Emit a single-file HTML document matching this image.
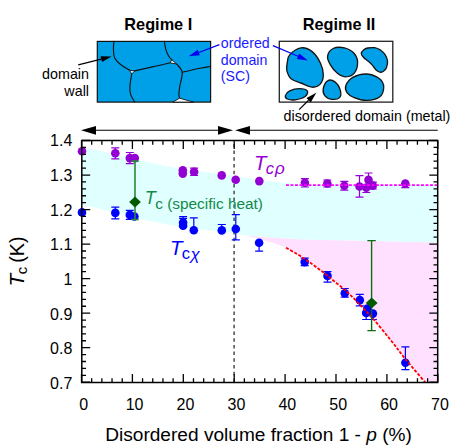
<!DOCTYPE html>
<html><head><meta charset="utf-8"><title>Tc vs disordered volume fraction</title>
<style>
html,body{margin:0;padding:0;background:#fff;}
body{width:463px;height:447px;overflow:hidden;font-family:"Liberation Sans",sans-serif;}
svg{display:block;font-family:"Liberation Sans",sans-serif;}
</style></head><body>
<svg width="463" height="447" viewBox="0 0 463 447">
<rect x="0" y="0" width="463" height="447" fill="#ffffff"/>

<polygon fill="#e0ffff" points="82.0,147.0 115.0,154.2 135.6,159.6 160.0,165.0 179.7,168.6 200.0,171.5 234.0,176.0 260.0,180.0 285.0,183.0 320.0,184.6 437.7,185.1 437.7,242.6 305.0,239.7 268.2,237.5 242.3,234.9 225.0,232.3 181.8,227.2 140.4,219.0 127.8,215.5 111.0,211.6 82.0,204.4"/>
<polygon fill="#ffe0ff" points="240.5,234.5 242.3,234.9 268.2,237.5 305.0,239.7 437.7,242.6 437.7,382.4 425.2,382.4 405.4,359.0 390.6,340.0 373.3,319.0 360.0,304.8 349.1,293.9 340.5,286.3 331.8,279.4 323.2,272.3 314.6,265.9 305.9,259.9 297.3,254.2 286.0,247.8 277.0,244.0 268.2,241.5 254.0,237.6"/>
<line x1="234.1" y1="141" x2="234.1" y2="382" stroke="#4a4a4a" stroke-width="1.5" stroke-dasharray="3.5,3.2" stroke-dashoffset="3.8"/>
<path d="M115.3,147.8 V158.8 M111.3,147.8 H119.3 M111.3,158.8 H119.3" stroke="#9400d3" stroke-width="1.2" fill="none"/>
<path d="M129.8,152.5 V163.7 M125.8,152.5 H133.8 M125.8,163.7 H133.8" stroke="#9400d3" stroke-width="1.2" fill="none"/>
<path d="M194.1,168.1 V175.3 M190.1,168.1 H198.1 M190.1,175.3 H198.1" stroke="#9400d3" stroke-width="1.2" fill="none"/>
<path d="M304.9,178.6 V187.0 M300.9,178.6 H308.9 M300.9,187.0 H308.9" stroke="#9400d3" stroke-width="1.2" fill="none"/>
<path d="M327.3,180.0 V187.0 M323.3,180.0 H331.3 M323.3,187.0 H331.3" stroke="#9400d3" stroke-width="1.2" fill="none"/>
<path d="M344.3,181.4 V190.2 M340.3,181.4 H348.3 M340.3,190.2 H348.3" stroke="#9400d3" stroke-width="1.2" fill="none"/>
<path d="M359.5,175.6 V197.1 M355.5,175.6 H363.5 M355.5,197.1 H363.5" stroke="#9400d3" stroke-width="1.2" fill="none"/>
<path d="M366.3,187.6 V192.5 M362.3,192.5 H370.3" stroke="#9400d3" stroke-width="1.2" fill="none"/>
<path d="M368.5,173.0 V179.9 M364.5,173.0 H372.5" stroke="#9400d3" stroke-width="1.2" fill="none"/>
<path d="M372.8,182.1 V189.0 M368.8,182.1 H376.8 M368.8,189.0 H376.8" stroke="#9400d3" stroke-width="1.2" fill="none"/>
<path d="M405.3,183.5 V187.6 M401.3,187.6 H409.3" stroke="#9400d3" stroke-width="1.2" fill="none"/>
<circle cx="82.0" cy="151.2" r="4.3" fill="#9400d3"/>
<circle cx="115.3" cy="153.3" r="4.3" fill="#9400d3"/>
<circle cx="129.8" cy="158.1" r="4.3" fill="#9400d3"/>
<circle cx="134.8" cy="158.1" r="4.3" fill="#9400d3"/>
<circle cx="182.8" cy="170.3" r="4.3" fill="#9400d3"/>
<circle cx="182.8" cy="173.6" r="4.3" fill="#9400d3"/>
<circle cx="194.1" cy="171.7" r="4.3" fill="#9400d3"/>
<circle cx="221.7" cy="175.4" r="4.3" fill="#9400d3"/>
<circle cx="235.7" cy="179.7" r="4.3" fill="#9400d3"/>
<circle cx="259.3" cy="181.1" r="4.3" fill="#9400d3"/>
<circle cx="304.9" cy="182.8" r="4.3" fill="#9400d3"/>
<circle cx="327.3" cy="183.5" r="4.3" fill="#9400d3"/>
<circle cx="344.3" cy="185.8" r="4.3" fill="#9400d3"/>
<circle cx="359.5" cy="186.5" r="4.3" fill="#9400d3"/>
<circle cx="366.3" cy="187.6" r="4.3" fill="#9400d3"/>
<circle cx="368.5" cy="179.9" r="4.3" fill="#9400d3"/>
<circle cx="372.8" cy="185.6" r="4.3" fill="#9400d3"/>
<circle cx="405.3" cy="183.5" r="4.3" fill="#9400d3"/>
<path d="M115.3,207.2 V218.8 M111.3,207.2 H119.3 M111.3,218.8 H119.3" stroke="#0000ff" stroke-width="1.2" fill="none"/>
<path d="M129.8,210.4 V219.4 M125.8,210.4 H133.8 M125.8,219.4 H133.8" stroke="#0000ff" stroke-width="1.2" fill="none"/>
<path d="M183.1,216.6 V222.6 M179.1,216.6 H187.1" stroke="#0000ff" stroke-width="1.2" fill="none"/>
<path d="M183.1,218.3 V225.7 M179.1,218.3 H187.1" stroke="#0000ff" stroke-width="1.2" fill="none"/>
<path d="M193.8,217.8 V230.2 M189.8,217.8 H197.8" stroke="#0000ff" stroke-width="1.2" fill="none"/>
<path d="M221.8,224.5 V230.4 M217.8,224.5 H225.8" stroke="#0000ff" stroke-width="1.2" fill="none"/>
<path d="M235.8,214.7 V239.9 M231.8,214.7 H239.8 M231.8,239.9 H239.8" stroke="#0000ff" stroke-width="1.2" fill="none"/>
<path d="M259.1,242.8 V251.1 M255.1,251.1 H263.1" stroke="#0000ff" stroke-width="1.2" fill="none"/>
<path d="M304.7,258.1 V265.6 M300.7,258.1 H308.7 M300.7,265.6 H308.7" stroke="#0000ff" stroke-width="1.2" fill="none"/>
<path d="M327.5,271.7 V282.1 M323.5,271.7 H331.5 M323.5,282.1 H331.5" stroke="#0000ff" stroke-width="1.2" fill="none"/>
<path d="M344.8,288.5 V297.2 M340.8,288.5 H348.8 M340.8,297.2 H348.8" stroke="#0000ff" stroke-width="1.2" fill="none"/>
<path d="M359.8,294.3 V305.9 M355.8,294.3 H363.8 M355.8,305.9 H363.8" stroke="#0000ff" stroke-width="1.2" fill="none"/>
<path d="M366.2,312.9 V319.5 M362.2,319.5 H370.2" stroke="#0000ff" stroke-width="1.2" fill="none"/>
<path d="M372.9,313.6 V319.5 M368.9,319.5 H376.9" stroke="#0000ff" stroke-width="1.2" fill="none"/>
<path d="M405.4,346.8 V369.6 M401.4,346.8 H409.4 M401.4,369.6 H409.4" stroke="#0000ff" stroke-width="1.2" fill="none"/>
<circle cx="82.0" cy="212.4" r="4.3" fill="#0000ff"/>
<circle cx="115.3" cy="212.9" r="4.3" fill="#0000ff"/>
<circle cx="129.8" cy="214.9" r="4.3" fill="#0000ff"/>
<circle cx="134.4" cy="216.5" r="4.3" fill="#0000ff"/>
<circle cx="183.1" cy="222.6" r="4.3" fill="#0000ff"/>
<circle cx="183.1" cy="225.7" r="4.3" fill="#0000ff"/>
<circle cx="193.8" cy="230.2" r="4.3" fill="#0000ff"/>
<circle cx="221.8" cy="230.4" r="4.3" fill="#0000ff"/>
<circle cx="235.8" cy="229.0" r="4.3" fill="#0000ff"/>
<circle cx="259.1" cy="242.8" r="4.3" fill="#0000ff"/>
<circle cx="304.7" cy="262.1" r="4.3" fill="#0000ff"/>
<circle cx="327.5" cy="275.9" r="4.3" fill="#0000ff"/>
<circle cx="344.8" cy="293.2" r="4.3" fill="#0000ff"/>
<circle cx="359.8" cy="300.1" r="4.3" fill="#0000ff"/>
<circle cx="366.2" cy="312.9" r="4.3" fill="#0000ff"/>
<circle cx="367.4" cy="308.5" r="4.3" fill="#0000ff"/>
<circle cx="372.9" cy="313.6" r="4.3" fill="#0000ff"/>
<circle cx="405.4" cy="362.7" r="4.3" fill="#0000ff"/>
<line x1="286" y1="185.1" x2="437.7" y2="185.1" stroke="#ff00ff" stroke-width="1.6" stroke-dasharray="2.9,1.6"/>
<path d="M286.0,247.8 C287.9,248.9 294.0,252.2 297.3,254.2 C300.6,256.2 303.0,257.9 305.9,259.9 C308.8,261.8 311.7,263.8 314.6,265.9 C317.5,268.0 320.3,270.1 323.2,272.3 C326.1,274.6 328.9,277.1 331.8,279.4 C334.7,281.7 337.6,283.9 340.5,286.3 C343.4,288.7 345.9,290.8 349.1,293.9 C352.4,297.0 356.0,300.6 360.0,304.8 C364.0,309.0 368.2,313.1 373.3,319.0 C378.4,324.9 385.2,333.3 390.6,340.0 C396.0,346.7 399.6,351.9 405.4,359.0 C411.2,366.1 421.9,378.5 425.2,382.4" fill="none" stroke="#ff0000" stroke-width="1.8" stroke-dasharray="3.1,1.6"/>
<path d="M135.0,161.0 V219.5 M131.2,161.0 H138.8 M131.2,219.5 H138.8" stroke="#2a8a3a" stroke-width="1.6" fill="none"/>
<path d="M371.6,240.6 V330.6 M367.4,240.6 H375.8 M367.4,330.6 H375.8" stroke="#106a10" stroke-width="1.4" fill="none"/>
<polygon points="135.0,196.6 140.9,202.0 135.0,207.4 129.1,202.0" fill="#005a00"/>
<polygon points="371.7,297.5 377.6,302.9 371.7,308.3 365.8,302.9" fill="#005a00"/>
<g stroke="#000" stroke-width="1.5" fill="none">
<rect x="81.8" y="140.5" width="355.9" height="242.0"/>
<path d="M81.50,140.5 v8.4 M81.50,382.5 v-8.4 M91.68,140.5 v4.2 M91.68,382.5 v-4.2 M101.86,140.5 v4.2 M101.86,382.5 v-4.2 M112.04,140.5 v4.2 M112.04,382.5 v-4.2 M122.22,140.5 v4.2 M122.22,382.5 v-4.2 M132.40,140.5 v8.4 M132.40,382.5 v-8.4 M142.58,140.5 v4.2 M142.58,382.5 v-4.2 M152.76,140.5 v4.2 M152.76,382.5 v-4.2 M162.94,140.5 v4.2 M162.94,382.5 v-4.2 M173.12,140.5 v4.2 M173.12,382.5 v-4.2 M183.30,140.5 v8.4 M183.30,382.5 v-8.4 M193.48,140.5 v4.2 M193.48,382.5 v-4.2 M203.66,140.5 v4.2 M203.66,382.5 v-4.2 M213.84,140.5 v4.2 M213.84,382.5 v-4.2 M224.02,140.5 v4.2 M224.02,382.5 v-4.2 M234.20,140.5 v8.4 M234.20,382.5 v-8.4 M244.38,140.5 v4.2 M244.38,382.5 v-4.2 M254.56,140.5 v4.2 M254.56,382.5 v-4.2 M264.74,140.5 v4.2 M264.74,382.5 v-4.2 M274.92,140.5 v4.2 M274.92,382.5 v-4.2 M285.10,140.5 v8.4 M285.10,382.5 v-8.4 M295.28,140.5 v4.2 M295.28,382.5 v-4.2 M305.46,140.5 v4.2 M305.46,382.5 v-4.2 M315.64,140.5 v4.2 M315.64,382.5 v-4.2 M325.82,140.5 v4.2 M325.82,382.5 v-4.2 M336.00,140.5 v8.4 M336.00,382.5 v-8.4 M346.18,140.5 v4.2 M346.18,382.5 v-4.2 M356.36,140.5 v4.2 M356.36,382.5 v-4.2 M366.54,140.5 v4.2 M366.54,382.5 v-4.2 M376.72,140.5 v4.2 M376.72,382.5 v-4.2 M386.90,140.5 v8.4 M386.90,382.5 v-8.4 M397.08,140.5 v4.2 M397.08,382.5 v-4.2 M407.26,140.5 v4.2 M407.26,382.5 v-4.2 M417.44,140.5 v4.2 M417.44,382.5 v-4.2 M427.62,140.5 v4.2 M427.62,382.5 v-4.2 M437.80,140.5 v8.4 M437.80,382.5 v-8.4 M81.8,382.21 h8.4 M437.7,382.21 h-8.4 M81.8,375.30 h4.2 M437.7,375.30 h-4.2 M81.8,368.40 h4.2 M437.7,368.40 h-4.2 M81.8,361.49 h4.2 M437.7,361.49 h-4.2 M81.8,354.59 h4.2 M437.7,354.59 h-4.2 M81.8,347.68 h8.4 M437.7,347.68 h-8.4 M81.8,340.77 h4.2 M437.7,340.77 h-4.2 M81.8,333.87 h4.2 M437.7,333.87 h-4.2 M81.8,326.96 h4.2 M437.7,326.96 h-4.2 M81.8,320.06 h4.2 M437.7,320.06 h-4.2 M81.8,313.15 h8.4 M437.7,313.15 h-8.4 M81.8,306.24 h4.2 M437.7,306.24 h-4.2 M81.8,299.34 h4.2 M437.7,299.34 h-4.2 M81.8,292.43 h4.2 M437.7,292.43 h-4.2 M81.8,285.53 h4.2 M437.7,285.53 h-4.2 M81.8,278.62 h8.4 M437.7,278.62 h-8.4 M81.8,271.71 h4.2 M437.7,271.71 h-4.2 M81.8,264.81 h4.2 M437.7,264.81 h-4.2 M81.8,257.90 h4.2 M437.7,257.90 h-4.2 M81.8,251.00 h4.2 M437.7,251.00 h-4.2 M81.8,244.09 h8.4 M437.7,244.09 h-8.4 M81.8,237.18 h4.2 M437.7,237.18 h-4.2 M81.8,230.28 h4.2 M437.7,230.28 h-4.2 M81.8,223.37 h4.2 M437.7,223.37 h-4.2 M81.8,216.47 h4.2 M437.7,216.47 h-4.2 M81.8,209.56 h8.4 M437.7,209.56 h-8.4 M81.8,202.65 h4.2 M437.7,202.65 h-4.2 M81.8,195.75 h4.2 M437.7,195.75 h-4.2 M81.8,188.84 h4.2 M437.7,188.84 h-4.2 M81.8,181.94 h4.2 M437.7,181.94 h-4.2 M81.8,175.03 h8.4 M437.7,175.03 h-8.4 M81.8,168.12 h4.2 M437.7,168.12 h-4.2 M81.8,161.22 h4.2 M437.7,161.22 h-4.2 M81.8,154.31 h4.2 M437.7,154.31 h-4.2 M81.8,147.41 h4.2 M437.7,147.41 h-4.2 M81.8,140.50 h8.4 M437.7,140.50 h-8.4 " stroke-width="1.3"/>
</g>
<g font-size="16" fill="#000">
<text x="83.7" y="410.2" text-anchor="middle">0</text>
<text x="134.6" y="410.2" text-anchor="middle">10</text>
<text x="185.5" y="410.2" text-anchor="middle">20</text>
<text x="236.4" y="410.2" text-anchor="middle">30</text>
<text x="287.3" y="410.2" text-anchor="middle">40</text>
<text x="338.2" y="410.2" text-anchor="middle">50</text>
<text x="389.1" y="410.2" text-anchor="middle">60</text>
<text x="440.0" y="410.2" text-anchor="middle">70</text>
<text x="72.3" y="388.9" text-anchor="end">0.7</text>
<text x="72.3" y="354.3" text-anchor="end">0.8</text>
<text x="72.3" y="319.6" text-anchor="end">0.9</text>
<text x="72.3" y="285.0" text-anchor="end">1</text>
<text x="72.3" y="250.3" text-anchor="end">1.1</text>
<text x="72.3" y="215.7" text-anchor="end">1.2</text>
<text x="72.3" y="181.0" text-anchor="end">1.3</text>
<text x="72.3" y="146.4" text-anchor="end">1.4</text>
</g>
<text x="105.2" y="441.0" font-size="19.1" fill="#000">Disordered volume fraction 1 - <tspan font-style="italic">p</tspan> (%)</text>
<text transform="translate(23.6,286.6) rotate(-90)" font-size="20.8" font-style="italic" fill="#000">T</text>
<text transform="translate(26.9,274.2) rotate(-90)" font-size="14.8" fill="#000">c</text>
<text transform="translate(23.7,262.8) rotate(-90)" font-size="19.8" fill="#000">(K)</text>
<text x="254" y="169.5" font-size="20.5" fill="#9400d3"><tspan font-style="italic">T</tspan><tspan font-size="16.5" dy="4.2" dx="-0.8" font-style="italic">c</tspan><tspan font-size="17" dx="1.0" font-style="italic">&#961;</tspan></text>
<text x="170" y="254.6" font-size="20.5" font-style="italic" fill="#0000ff">T</text>
<text x="181.8" y="259.2" font-size="16.5" fill="#0000ff">c</text>
<text transform="translate(190.6,259.8) scale(1.08,1)" font-size="15.7" font-style="italic" fill="#0000ff">&#967;</text>
<text x="144.8" y="204.2" font-size="18" fill="#128a4a"><tspan font-style="italic">T</tspan><tspan font-size="15.4" dy="4.5" dx="-0.6">c (specific heat)</tspan></text>
<g stroke="#000" stroke-width="1.1" fill="#000">
<line x1="90" y1="130.3" x2="225" y2="130.3"/><line x1="243" y1="130.3" x2="437.7" y2="130.3"/>
<polygon stroke="none" points="81,130.3 96,125.9 96,134.7"/>
<polygon stroke="none" points="233,130.3 218,125.9 218,134.7"/>
<polygon stroke="none" points="235.1,130.3 250,125.9 250,134.7"/>
</g>
<text x="158.3" y="30.2" font-size="16.3" font-weight="bold" text-anchor="middle">Regime I</text>
<text x="339" y="30.2" font-size="16.3" font-weight="bold" text-anchor="middle">Regime II</text>
<rect x="97.3" y="41.4" width="113.3" height="60.7" fill="#00a0e8" stroke="#111" stroke-width="1.2"/>
<path d="M113.9,41.4 C113.8,42.7 113.3,46.5 113.4,49.3 C113.5,52.1 113.5,55.4 114.7,58.0 C116.0,60.6 118.4,62.8 120.9,64.8 C123.4,66.8 128.1,69.3 129.5,70.2" fill="none" stroke="#111" stroke-width="1.15" stroke-linejoin="round" stroke-linecap="round"/>
<path d="M131.7,74.0 C131.4,76.0 130.1,82.6 129.9,86.1 C129.7,89.5 129.9,92.1 130.7,94.7 C131.5,97.3 134.0,100.7 134.7,101.9" fill="none" stroke="#111" stroke-width="1.15" stroke-linejoin="round" stroke-linecap="round"/>
<path d="M134.7,70.9 C137.6,70.2 146.4,68.2 152.3,66.9 C158.2,65.6 167.1,63.5 170.1,62.8" fill="none" stroke="#111" stroke-width="1.15" stroke-linejoin="round" stroke-linecap="round"/>
<path d="M164.4,41.4 C164.6,42.7 165.1,46.9 165.8,49.3 C166.5,51.7 167.6,54.2 168.6,56.0 C169.6,57.8 171.3,59.2 171.8,59.8" fill="none" stroke="#111" stroke-width="1.15" stroke-linejoin="round" stroke-linecap="round"/>
<path d="M176.7,64.0 C177.6,65.4 181.7,68.6 182.2,72.3 C182.7,76.0 180.4,82.4 179.8,86.1 C179.2,89.8 178.9,92.7 178.9,94.7 C178.9,96.7 179.5,97.6 179.6,98.2" fill="none" stroke="#111" stroke-width="1.15" stroke-linejoin="round" stroke-linecap="round"/>
<path d="M182.2,72.3 C183.8,71.9 189.0,70.7 192.0,70.0 C195.0,69.3 196.9,68.9 200.0,68.3 C203.1,67.7 208.8,66.7 210.6,66.4" fill="none" stroke="#111" stroke-width="1.15" stroke-linejoin="round" stroke-linecap="round"/>
<polygon points="129.5,70.2 134.7,70.9 131.7,74.0" fill="#fff" stroke="#111" stroke-width="0.9" stroke-linejoin="round"/>
<polygon points="171.8,59.8 176.7,64.0 170.1,62.8" fill="#fff" stroke="#111" stroke-width="0.9" stroke-linejoin="round"/>
<polygon points="179.6,98.2 172.7,102.1 193.4,102.1" fill="#fff" stroke="#111" stroke-width="0.9" stroke-linejoin="round"/>
<rect x="279.3" y="41.3" width="113.5" height="60.8" fill="#fff" stroke="#222" stroke-width="1.3"/>
<path d="M289.7,54.9 C291.9,52.6 297.1,48.5 300.9,47.9 C304.6,47.3 308.8,49.0 312.1,51.6 C315.4,54.1 318.7,59.4 320.5,63.3 C322.4,67.3 323.4,71.6 323.3,75.1 C323.3,78.7 321.9,82.4 320.0,84.4 C318.1,86.4 315.3,87.4 312.1,87.2 C308.9,87.0 304.4,84.4 300.9,83.0 C297.4,81.6 293.4,80.9 291.1,78.8 C288.7,76.7 287.5,73.2 286.8,70.4 C286.2,67.6 286.9,64.5 287.4,61.9 C287.9,59.4 287.4,57.3 289.7,54.9 Z" fill="#00a0e8" stroke="#151515" stroke-width="1.35"/>
<path d="M327.6,56.3 C328.0,53.6 330.4,49.9 333.2,48.5 C336.0,47.1 340.9,47.1 344.4,47.9 C347.9,48.7 352.0,51.1 354.2,53.5 C356.4,56.0 357.6,59.2 357.6,62.5 C357.6,65.8 356.2,70.8 354.2,73.2 C352.3,75.6 348.6,76.8 345.8,76.8 C343.0,76.8 340.0,75.2 337.4,73.2 C334.8,71.2 332.0,67.6 330.4,64.8 C328.7,61.9 327.1,59.0 327.6,56.3 Z" fill="#00a0e8" stroke="#151515" stroke-width="1.35"/>
<path d="M361.3,53.5 C361.3,52.3 362.5,50.8 363.6,49.9 C364.7,49.0 365.9,48.4 367.7,48.0 C369.5,47.7 372.4,47.4 374.6,47.7 C376.7,48.1 378.9,49.1 380.7,50.2 C382.4,51.3 383.8,52.7 384.9,54.4 C386.1,56.2 387.3,58.6 387.5,60.8 C387.8,63.0 387.1,65.9 386.4,67.7 C385.8,69.4 384.5,70.4 383.4,71.2 C382.3,71.9 381.1,72.5 379.9,72.2 C378.7,72.0 377.4,71.2 376.1,70.0 C374.8,68.8 373.7,66.6 372.3,65.1 C370.9,63.6 369.2,62.1 367.7,60.8 C366.3,59.6 364.7,58.7 363.6,57.5 C362.5,56.3 361.3,54.8 361.3,53.5 Z" fill="#00a0e8" stroke="#151515" stroke-width="1.35"/>
<path d="M285.4,95.6 C285.8,94.3 287.3,92.0 289.7,90.9 C292.0,89.7 296.5,88.6 299.5,88.6 C302.4,88.6 306.4,89.6 307.3,90.9 C308.3,92.2 307.1,95.0 305.1,96.5 C303.1,98.0 298.2,99.4 295.3,99.8 C292.3,100.3 289.0,99.7 287.4,99.0 C285.8,98.3 285.1,97.0 285.4,95.6 Z" fill="#00a0e8" stroke="#151515" stroke-width="1.35"/>
<path d="M323.3,88.6 C323.8,86.1 325.7,81.9 327.6,80.8 C329.4,79.6 332.5,80.1 334.6,81.6 C336.7,83.1 339.4,87.4 340.2,90.0 C341.0,92.7 341.0,96.1 339.6,97.6 C338.2,99.1 334.3,99.6 331.8,99.3 C329.3,99.0 326.2,97.4 324.8,95.6 C323.3,93.9 322.9,91.1 323.3,88.6 Z" fill="#00a0e8" stroke="#151515" stroke-width="1.35"/>
<path d="M345.8,85.8 C346.7,83.2 349.3,79.4 352.8,77.4 C356.3,75.4 362.4,73.8 366.9,74.0 C371.3,74.3 376.7,76.6 379.5,78.8 C382.3,81.0 383.7,84.2 383.7,87.2 C383.7,90.3 382.3,94.8 379.5,97.0 C376.7,99.2 371.1,100.3 366.9,100.4 C362.7,100.5 357.5,98.9 354.2,97.6 C351.0,96.3 348.6,94.8 347.2,92.8 C345.8,90.9 344.9,88.4 345.8,85.8 Z" fill="#00a0e8" stroke="#151515" stroke-width="1.35"/>
<line x1="78.2" y1="64.9" x2="101.2" y2="59.1" stroke="#000" stroke-width="1.2"/>
<polygon points="111.6,56.5 102.0,62.0 100.5,56.2" fill="#000"/>
<line x1="219.4" y1="44.6" x2="198.8" y2="52.5" stroke="#0000ee" stroke-width="1.2"/>
<polygon points="188.8,56.3 197.7,49.7 199.9,55.3" fill="#0000ee"/>
<line x1="272.9" y1="45.6" x2="298.1" y2="56.3" stroke="#0000ee" stroke-width="1.2"/>
<polygon points="307.9,60.5 296.9,59.1 299.2,53.6" fill="#0000ee"/>
<line x1="299.1" y1="109.6" x2="308.6" y2="100.3" stroke="#000" stroke-width="1.2"/>
<polygon points="316.3,92.8 310.7,102.4 306.5,98.1" fill="#000"/>
<g font-size="14.3" fill="#000">
<text x="89" y="78.5" text-anchor="end">domain</text>
<text x="89" y="95.8" text-anchor="end">wall</text>
<text x="283.5" y="121.3">disordered domain (metal)</text>
</g>
<g font-size="14.2" fill="#1a1aff">
<text x="220.8" y="48.3">ordered</text>
<text x="220.8" y="64.9">domain</text>
<text x="220.8" y="80.9">(SC)</text>
</g>
</svg></body></html>
